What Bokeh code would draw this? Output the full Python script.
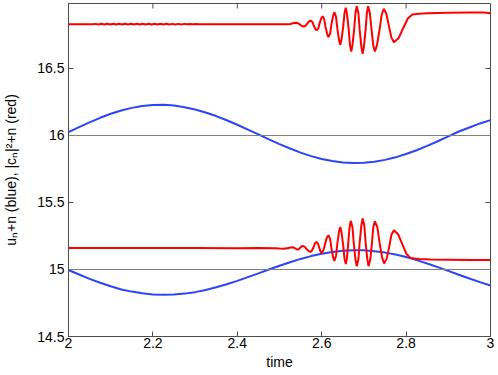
import math
from bokeh.plotting import figure
from bokeh.models import Range1d, FixedTicker, Span
from bokeh.embed import file_html
from bokeh.resources import INLINE

# ---------------- data ----------------
blue_t = [2.000, 2.025, 2.050, 2.075, 2.100, 2.125, 2.150, 2.175, 2.200, 2.225,
          2.250, 2.275, 2.300, 2.325, 2.350, 2.375, 2.400, 2.425, 2.450, 2.475,
          2.500, 2.525, 2.550, 2.575, 2.600, 2.625, 2.650, 2.675, 2.700, 2.725,
          2.750, 2.775, 2.800, 2.825, 2.850, 2.875, 2.900, 2.925, 2.950, 2.975, 3.000]

blue_upper = [16.025, 16.062, 16.098, 16.132, 16.162, 16.187, 16.206, 16.220, 16.228, 16.229,
              16.223, 16.211, 16.194, 16.172, 16.145, 16.114, 16.080, 16.044, 16.008, 15.971,
              15.936, 15.903, 15.872, 15.846, 15.825, 15.809, 15.798, 15.794, 15.796, 15.804,
              15.818, 15.837, 15.862, 15.890, 15.922, 15.957, 15.993, 16.030, 16.060, 16.090, 16.115]

blue_lower = [14.996, 14.963, 14.930, 14.901, 14.875, 14.851, 14.835, 14.822, 14.814, 14.811,
              14.813, 14.820, 14.831, 14.847, 14.867, 14.890, 14.915, 14.943, 14.971, 15.000,
              15.028, 15.054, 15.079, 15.100, 15.118, 15.131, 15.140, 15.144, 15.143, 15.137,
              15.126, 15.112, 15.093, 15.070, 15.045, 15.018, 14.990, 14.961, 14.933, 14.906, 14.881]

red_upper_t = [2.000, 2.050,
               2.057, 2.064, 2.071, 2.078, 2.085, 2.092, 2.099, 2.106, 2.113, 2.120,
               2.127, 2.134, 2.141, 2.148, 2.155, 2.162, 2.169, 2.176, 2.183, 2.190,
               2.197, 2.204, 2.211, 2.218, 2.225, 2.232, 2.239, 2.246, 2.253, 2.260,
               2.267, 2.274, 2.281, 2.288, 2.295, 2.302, 2.309, 2.316,
               2.350, 2.400, 2.450, 2.500, 2.520,
               2.525, 2.530, 2.534, 2.539, 2.544, 2.549, 2.553, 2.558,
               2.562, 2.566, 2.570, 2.574, 2.578, 2.581, 2.585, 2.588,
               2.592, 2.595, 2.599, 2.602, 2.606, 2.609, 2.613, 2.616,
               2.620, 2.623, 2.627, 2.630, 2.634, 2.637, 2.641, 2.644,
               2.647, 2.651, 2.654, 2.657, 2.660, 2.664, 2.667, 2.670,
               2.673, 2.677, 2.680, 2.683, 2.687, 2.690, 2.694, 2.697,
               2.700, 2.704, 2.707, 2.710, 2.714, 2.718, 2.722, 2.726,
               2.731, 2.737, 2.742, 2.747, 2.753, 2.759, 2.765, 2.771,
               2.782, 2.793, 2.804, 2.815, 2.830, 2.850, 2.900, 2.950, 2.985, 3.000]

red_upper = [16.831, 16.831,
             16.830, 16.833, 16.829, 16.834, 16.828, 16.834, 16.828, 16.834, 16.828, 16.834,
             16.828, 16.834, 16.828, 16.834, 16.828, 16.834, 16.828, 16.834, 16.828, 16.834,
             16.828, 16.834, 16.828, 16.834, 16.828, 16.834, 16.829, 16.833, 16.829, 16.833,
             16.829, 16.833, 16.830, 16.832, 16.830, 16.832, 16.831, 16.831,
             16.831, 16.831, 16.831, 16.830, 16.831,
             16.832, 16.836, 16.840, 16.841, 16.837, 16.827, 16.817, 16.813,
             16.820, 16.836, 16.851, 16.858, 16.847, 16.821, 16.795, 16.784,
             16.799, 16.837, 16.875, 16.890, 16.867, 16.812, 16.757, 16.734,
             16.761, 16.827, 16.893, 16.920, 16.885, 16.799, 16.712, 16.677,
             16.717, 16.815, 16.913, 16.953, 16.905, 16.790, 16.675, 16.627,
             16.676, 16.796, 16.916, 16.965, 16.913, 16.788, 16.662, 16.610,
             16.662, 16.788, 16.913, 16.965, 16.916, 16.796, 16.676, 16.627,
             16.674, 16.787, 16.899, 16.946, 16.910, 16.821, 16.732, 16.696,
             16.726, 16.800, 16.873, 16.903, 16.909, 16.912, 16.916, 16.918, 16.918, 16.912]

red_lower_t = [2.000, 2.100, 2.200, 2.300, 2.400, 2.450, 2.490, 2.500, 2.510, 2.520,
               2.531, 2.534, 2.537, 2.540, 2.543, 2.546, 2.549, 2.552, 2.555,
               2.560, 2.564, 2.569, 2.573, 2.577, 2.581, 2.584, 2.588,
               2.591, 2.594, 2.597, 2.600, 2.604, 2.608, 2.612, 2.616,
               2.620, 2.623, 2.627, 2.630, 2.634, 2.637, 2.641, 2.644,
               2.647, 2.651, 2.654, 2.657, 2.660, 2.663, 2.666, 2.669,
               2.673, 2.676, 2.680, 2.683, 2.687, 2.690, 2.694, 2.697,
               2.701, 2.704, 2.708, 2.711, 2.715, 2.719, 2.722, 2.726,
               2.732, 2.737, 2.743, 2.748, 2.754, 2.760, 2.765, 2.771,
               2.781, 2.791, 2.801, 2.811, 2.830, 2.858, 2.900, 2.950, 3.000]

red_lower = [15.160, 15.160, 15.160, 15.160, 15.159, 15.160, 15.158, 15.156, 15.155, 15.160,
             15.166, 15.163, 15.157, 15.151, 15.148, 15.152, 15.162, 15.172, 15.176,
             15.169, 15.153, 15.138, 15.131, 15.142, 15.168, 15.195, 15.206,
             15.194, 15.165, 15.136, 15.124, 15.143, 15.190, 15.237, 15.256,
             15.228, 15.160, 15.092, 15.064, 15.101, 15.191, 15.281, 15.318,
             15.277, 15.179, 15.081, 15.040, 15.087, 15.202, 15.316, 15.363,
             15.314, 15.194, 15.074, 15.025, 15.077, 15.203, 15.329, 15.381,
             15.329, 15.203, 15.077, 15.025, 15.074, 15.193, 15.311, 15.360,
             15.314, 15.203, 15.091, 15.045, 15.081, 15.169, 15.257, 15.293,
             15.263, 15.189, 15.115, 15.085, 15.079, 15.075, 15.073, 15.071, 15.070]

ref_levels = [15.0, 16.0]

x_min, x_max = 2.0, 3.0
y_min, y_max = 14.5, 16.985
x_ticks = [2.0, 2.2, 2.4, 2.6, 2.8, 3.0]
x_tick_labels = ["2", "2.2", "2.4", "2.6", "2.8", "3"]
y_ticks = [14.5, 15.0, 15.5, 16.0, 16.5]
y_tick_labels = ["14.5", "15", "15.5", "16", "16.5"]

x_label = "time"
y_label = "u\u2099+n (blue), |c\u2099|\u00b2+n (red)"

# ---------------- figure ----------------
FONT = "Liberation Sans"
AX = "#4d4d4d"

p = figure(width=498, height=375, output_backend="svg", toolbar_location=None,
           x_range=Range1d(x_min, x_max), y_range=Range1d(y_min, y_max),
           min_border_left=67, min_border_right=8, min_border_top=3, min_border_bottom=39)
p.background_fill_color = "white"
p.border_fill_color = "white"
p.outline_line_color = AX
p.outline_line_width = 1
p.xgrid.visible = False
p.ygrid.visible = False

for ax, ticks, labels in ((p.xaxis[0], x_ticks, x_tick_labels), (p.yaxis[0], y_ticks, y_tick_labels)):
    ax.ticker = FixedTicker(ticks=ticks)
    ax.major_label_overrides = {t: l for t, l in zip(ticks, labels)}
    ax.major_tick_in = 5
    ax.major_tick_out = 0
    ax.minor_tick_line_color = None
    ax.axis_line_color = AX
    ax.major_tick_line_color = AX
    ax.major_label_text_font = FONT
    ax.major_label_text_font_size = "14px"
    ax.major_label_text_color = "black"
    ax.axis_label_text_font = FONT
    ax.axis_label_text_font_size = "14px"
    ax.axis_label_text_font_style = "normal"
    ax.axis_label_text_color = "black"

p.xaxis.axis_label = x_label
p.yaxis.axis_label = y_label
p.xaxis.major_label_standoff = 1
p.xaxis.axis_label_standoff = 3
p.yaxis.major_label_standoff = 4
p.yaxis.axis_label_standoff = 15

# mirrored inner ticks on the top and right edges of the box
p.scatter(x_ticks[1:-1], [y_max] * (len(x_ticks) - 2), marker="dash", angle=math.pi / 2,
          size=10, line_color=AX, line_width=1)
p.scatter([x_max] * (len(y_ticks) - 1), y_ticks[1:], marker="dash",
          size=10, line_color=AX, line_width=1)

for lv in ref_levels:
    p.add_layout(Span(location=lv, dimension="width", line_color="#7f7f7f", line_width=1))

p.line(blue_t, blue_upper, line_color="#2a45f6", line_width=2)
p.line(blue_t, blue_lower, line_color="#2a45f6", line_width=2)
p.line(red_upper_t, red_upper, line_color="#ff0000", line_width=2)
p.line(red_lower_t, red_lower, line_color="#ff0000", line_width=2)

open("out.html", "w").write(file_html(p, INLINE))
